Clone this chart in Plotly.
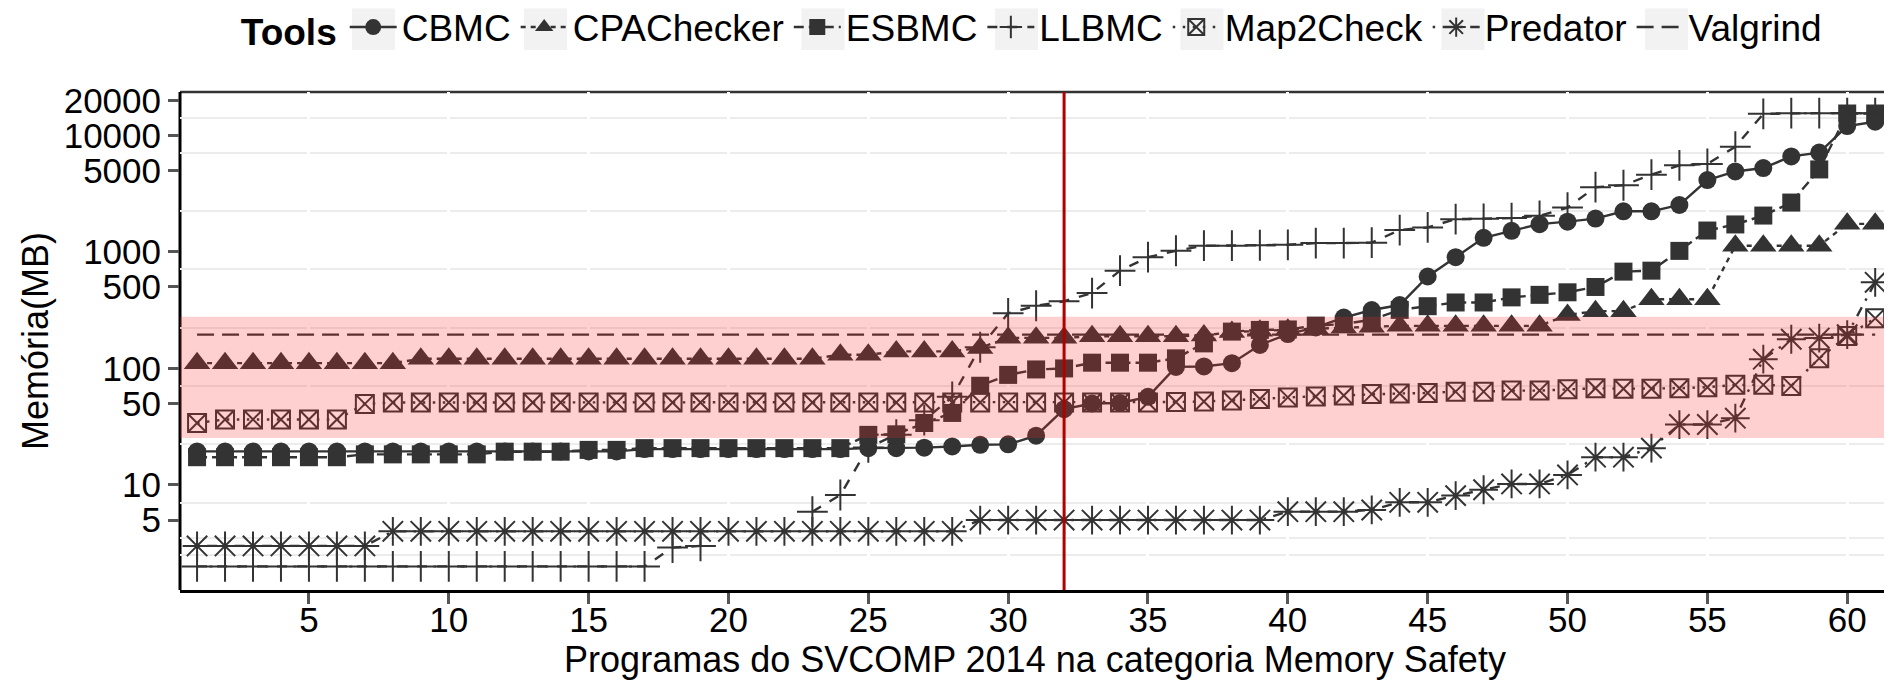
import plotly.graph_objects as go

# ---------------- data ----------------
programs = list(range(1, 62))

cbmc = [19.4, 19.4, 19.4, 19.4, 19.4, 19.4, 19.4, 19.4, 19.4, 19.4,
        19.4, 19.4, 19.4, 19.4, 19.4, 19.4, 20.3, 20.3, 20.3, 20.3,
        20.3, 20.3, 20.3, 20.3, 20.7, 20.7, 20.9, 21.4, 22.1, 22.3,
        26.5, 44.7, 50.0, 50.5, 57.0, 103, 104, 111, 159, 197,
        225, 273, 317, 350, 615, 900, 1320, 1517, 1730, 1818,
        1930, 2230, 2230, 2525, 4130, 4900, 5240, 6600, 7110, 12000,
        13080]

cpachecker = [111, 111, 111, 111, 111, 111, 111, 111, 121, 121,
              121, 121, 121, 121, 121, 121, 121, 121, 121, 121,
              121, 121, 121, 131, 131, 140, 140, 140, 150, 183,
              183, 183, 189, 189, 189, 189, 192, 205, 210, 215,
              220, 225, 228, 232, 232, 232, 232, 232, 232, 288,
              310, 310, 392, 392, 392, 1130, 1130, 1130, 1130, 1740,
              1740]

esbmc = [17.3, 17.3, 17.3, 17.3, 17.3, 17.3, 18.3, 18.3, 18.3, 18.3,
         18.3, 19.3, 19.3, 19.3, 20.0, 20.0, 20.7, 20.7, 20.7, 20.7,
         20.7, 20.7, 20.7, 20.7, 26.9, 27.2, 34.0, 41.5, 71.0, 88.0,
         98.0, 100, 112, 112, 112, 122, 164, 207, 214, 216,
         233, 240, 262, 318, 342, 368, 368, 407, 428, 450,
         500, 677, 690, 1020, 1525, 1720, 2050, 2650, 5100, 15400,
         15400]

llbmc = [2.0, 2.0, 2.0, 2.0, 2.0, 2.0, 2.0, 2.0, 2.0, 2.0,
         2.0, 2.0, 2.0, 2.0, 2.0, 2.0, 2.0, 2.9, 3.0, None,
         None, None, 5.9, 8.2, 21.0, 27.0, 36.0, 57.0, 152, 297,
         345, 377, 443, 690, 900, 1023, 1130, 1130, 1140, 1150,
         1190, 1190, 1200, 1540, 1620, 1910, 1923, 1950, 2040, 2400,
         3590, 3730, 4600, 5530, 5690, 7990, 15300, 15500, 15500, 15500,
         15500]

map2check = [34.0, 36.5, 36.5, 36.5, 36.5, 36.5, 49.6, 51.0, 51.0, 51.0,
             51.0, 51.0, 51.0, 51.0, 51.0, 51.0, 51.0, 51.0, 51.0, 51.0,
             51.0, 51.0, 51.0, 51.0, 51.0, 51.0, 51.0, 51.0, 51.0, 51.0,
             51.0, 51.0, 51.0, 51.0, 51.0, 51.5, 52.0, 53.0, 54.6, 56.4,
             57.5, 58.6, 60.2, 61.0, 61.5, 63.2, 63.2, 64.5, 64.5, 66.4,
             67.6, 67.0, 67.0, 67.6, 69.0, 72.3, 72.3, 70.8, 122, 190,
             269]

predator = [3.0, 3.0, 3.0, 3.0, 3.0, 3.0, 3.0, 4.0, 4.0, 4.0,
            4.0, 4.0, 4.0, 4.0, 4.0, 4.0, 4.0, 4.0, 4.0, 4.0,
            4.0, 4.0, 4.0, 4.0, 4.0, 4.0, 4.0, 4.0, 5.0, 5.0,
            5.0, 5.0, 5.0, 5.0, 5.0, 5.0, 5.0, 5.0, 5.0, 5.9,
            5.9, 5.9, 6.1, 7.1, 7.1, 8.1, 9.1, 10.2, 10.2, 12.2,
            17.3, 17.3, 20.7, 33.0, 33.0, 37.4, 120, 178, 182, 195,
            548]

valgrind = [195, 195, 195, 195, 195, 195, 195, 195, 195, 195,
            195, 195, 195, 195, 195, 195, 195, 195, 195, 195,
            195, 195, 195, 195, 195, 195, 195, 195, 195, 195,
            195, 195, 195, 195, 195, 195, 195, 195, 195, 195,
            195, 195, 195, 195, 195, 195, 195, 195, 195, 195,
            195, 195, 195, 195, 195, 195, 195, 195, 195, 195,
            195]

x_tick_vals = [5, 10, 15, 20, 25, 30, 35, 40, 45, 50, 55, 60]
y_tick_vals = [5, 10, 50, 100, 500, 1000, 5000, 10000, 20000]
y_tick_text = ["5", "10", "50", "100", "500", "1000", "5000", "10000", "20000"]
y_minor_vals = [2.5, 3.54, 7.07, 22.36, 70.7, 223.6, 707, 2236, 7071, 14142]

band_low, band_high = 25.3, 278   # shaded region
vline_x = 32                      # red reference line

# ---------------- styling ----------------
FONT = "Liberation Sans, Arial, sans-serif"
INK = "#333333"
LW = 2.4

# figure geometry (page body has an 8px margin, so the figure is sized to fit)
FIG_W, FIG_H = 1884, 675
M_L, M_R, M_T, M_B = 172, 2, 84, 93
PLOT_W = FIG_W - M_L - M_R
PLOT_H = FIG_H - M_T - M_B

series = [
    ("CBMC", cbmc, "solid", "circle", 18, 0),
    ("CPAChecker", cpachecker, "5px,5px", "triangle-up", 23, 0),
    ("ESBMC", esbmc, "10px,5px", "square", 18, 0),
    ("LLBMC", llbmc, "10px,10px", "cross-thin-open", 22, 2),
    ("Map2Check", map2check, "2.5px,7.5px", "square-x-open", 18, 2),
    ("Predator", predator, "2.5px,7.5px,10px,7.5px", "asterisk-open", 24, 2),
]

fig = go.Figure()
for name, vals, dash, sym, size, mlw in series:
    fig.add_trace(go.Scatter(
        x=programs, y=vals, name=name, mode="lines+markers",
        line=dict(color=INK, width=LW, dash=dash),
        marker=dict(symbol=sym, size=size, color=INK,
                    line=dict(color=INK, width=mlw)),
        connectgaps=False,
    ))
fig.add_trace(go.Scatter(
    x=programs, y=valgrind, name="Valgrind", mode="lines",
    line=dict(color=INK, width=LW, dash="17px,8px"),
))

shapes = [
    # panel border pieces drawn beneath the grid
    dict(type="line", xref="paper", yref="paper", x0=0, x1=1, y0=1, y1=1,
         line=dict(color="#333333", width=2.5), layer="below"),
    dict(type="line", xref="paper", yref="paper", x0=1, x1=1, y0=0, y1=1,
         line=dict(color="#111111", width=2.5), layer="below"),
    dict(type="line", xref="paper", yref="paper", x0=0, x1=0, y0=0, y1=1,
         line=dict(color="#000000", width=3), layer="below"),
    # shaded band
    dict(type="rect", xref="paper", yref="y", x0=0, x1=1,
         y0=band_low, y1=band_high, fillcolor="rgba(255,40,40,0.22)",
         line=dict(width=0), layer="above"),
    # red reference line
    dict(type="line", xref="x", yref="paper", x0=vline_x, x1=vline_x, y0=0, y1=1,
         line=dict(color="#b00000", width=3), layer="above"),
]

# light grey key backgrounds behind the legend symbols
key_centers_px = [365.5, 537.5, 815, 1008.5, 1194, 1455, 1658.5]
for cx in key_centers_px:
    shapes.append(dict(
        type="rect", xref="paper", yref="paper",
        x0=(cx - 21.5 - M_L) / PLOT_W, x1=(cx + 21.5 - M_L) / PLOT_W,
        y0=(FIG_H - M_B - 42) / PLOT_H, y1=(FIG_H - M_B - 0.5) / PLOT_H,
        fillcolor="#f2f2f2", line=dict(width=0), layer="below"))

fig.update_layout(
    width=FIG_W, height=FIG_H,
    margin=dict(l=M_L, r=M_R, t=M_T, b=M_B, pad=0, autoexpand=False),
    paper_bgcolor="white", plot_bgcolor="white",
    font=dict(family=FONT, size=37, color="black"),
    shapes=shapes,
    showlegend=True,
    legend=dict(
        orientation="h", xref="container", yref="container",
        x=0.1225, xanchor="left", y=1 - 19.5 / FIG_H, yanchor="middle",
        font=dict(size=37, color="black"),
        title=dict(text="<b>Tools</b>", font=dict(size=37)),
        itemwidth=47, bgcolor="rgba(0,0,0,0)",
    ),
    xaxis=dict(
        range=[0.39, 61.53], tickmode="array", tickvals=x_tick_vals,
        ticks="outside", ticklen=11, tickwidth=2.5, tickcolor="#555555",
        tickfont=dict(size=35, color="black"), ticklabelstandoff=-14,
        showgrid=True, gridcolor="white", gridwidth=2.5,
        zeroline=False, showline=True, linecolor="black", linewidth=3,
        automargin=False,
        title=dict(text="Programas do SVCOMP 2014 na categoria Memory Safety",
                   font=dict(size=36), standoff=8),
    ),
    yaxis=dict(
        type="log", range=[0.0986, 4.372], tickmode="array",
        tickvals=y_tick_vals, ticktext=y_tick_text,
        ticks="outside", ticklen=11, tickwidth=2.5, tickcolor="#555555",
        tickfont=dict(size=35, color="black"),
        showgrid=False, zeroline=False, showline=False, automargin=False,
        minor=dict(tickmode="array", tickvals=y_minor_vals, showgrid=True,
                   gridcolor="#ececec", gridwidth=2, ticks=""),
        title=dict(text="Memória(MB)", font=dict(size=36), standoff=4),
    ),
)

fig.write_html("out.html")
